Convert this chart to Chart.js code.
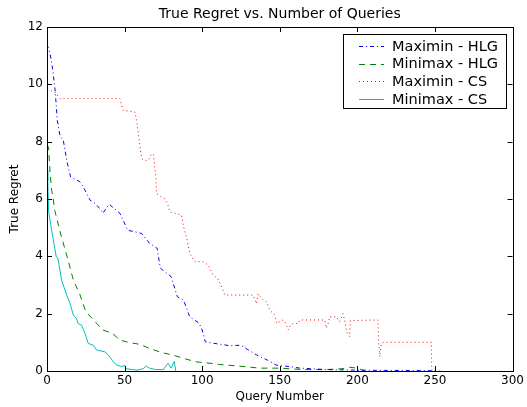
<!DOCTYPE html>
<html>
<head>
<meta charset="utf-8">
<script src="https://cdn.jsdelivr.net/npm/chart.js@4"></script>
<style>
  body { margin: 0; background: #fff; }
  #wrap { width: 527px; height: 407px; }
</style>
</head>
<body>
<div id="wrap"><canvas id="myChart" width="527" height="407"></canvas></div>
<script>
const chartTitle = 'True Regret vs. Number of Queries';
const xTicks = [0, 50, 100, 150, 200, 250, 300];
const yTicks = [0, 2, 4, 6, 8, 10, 12];

// Maximin - HLG
const maximinHlgX = [0, 2, 3.7, 5.2, 5.8, 6.6, 8.4, 10.5, 12.7, 15.2, 21.2, 23.4, 27.7, 31, 35, 36, 40, 47, 52, 61, 66, 71, 73, 80, 84, 88, 92, 98, 100, 102, 107, 118, 125, 129, 135, 142, 148, 157, 163, 180, 200, 220, 240, 253];
const maximinHlgY = [11.4, 11.07, 10.5, 9.8, 9.38, 8.75, 8.2, 8.05, 7.35, 6.77, 6.6, 6.42, 5.96, 5.85, 5.6, 5.5, 5.82, 5.5, 4.91, 4.8, 4.46, 4.28, 3.59, 3.29, 2.59, 2.47, 1.89, 1.67, 1.43, 1.02, 0.97, 0.88, 0.9, 0.76, 0.56, 0.38, 0.2, 0.15, 0.1, 0.05, 0.03, 0.02, 0.02, 0];

// Minimax - HLG
const minimaxHlgX = [0, 1, 2, 3, 4, 5, 9, 13, 17, 21, 25, 31, 36, 42, 47, 53, 60, 66, 74, 81, 88, 96, 105, 111, 124, 137, 150, 165, 180, 190, 195, 200, 205];
const minimaxHlgY = [7.9, 7.8, 6.9, 6.3, 6.0, 5.6, 4.74, 3.98, 3.17, 2.7, 2.07, 1.72, 1.43, 1.32, 1.08, 0.99, 0.93, 0.79, 0.64, 0.56, 0.44, 0.32, 0.27, 0.23, 0.17, 0.1, 0.1, 0.05, 0.05, 0.08, 0.13, 0.1, 0];

// Maximin - CS
const maximinCsX = [0, 2, 5, 8.4, 47, 49, 56.7, 57.7, 60, 61, 63.3, 65.3, 67.4, 68.6, 69.5, 70.2, 70.6, 73.8, 76, 78, 79.2, 86.7, 88, 90, 92, 95.3, 100.6, 104, 107, 110, 113.5, 114.6, 132.8, 135, 136, 139, 141.5, 143.6, 146.8, 148, 150, 152, 154, 155.5, 157, 158.6, 162, 163, 179, 180, 181.5, 182, 186.5, 188.5, 190.8, 192, 193, 195, 195.5, 213.3, 213.7, 214.4, 215.5, 217, 247.6, 248];
const maximinCsY = [9.8, 9.78, 9.73, 9.5, 9.5, 9.09, 9.03, 8.75, 7.81, 7.4, 7.35, 7.35, 7.58, 7.55, 7.1, 6.65, 6.19, 6.07, 6.0, 5.78, 5.55, 5.44, 5.03, 4.65, 4.1, 3.81, 3.81, 3.69, 3.34, 3.23, 2.82, 2.65, 2.65, 2.35, 2.7, 2.5, 2.41, 2.12, 1.95, 1.66, 1.72, 1.78, 1.66, 1.43, 1.6, 1.66, 1.66, 1.78, 1.78, 1.49, 1.7, 1.89, 1.89, 1.72, 2.0, 1.72, 1.37, 1.2, 1.76, 1.78, 1.08, 0.5, 0.96, 1.0, 1.0, 0];

// Minimax - CS
const minimaxCsX = [0, 0.5, 1, 3, 6, 7, 9.4, 12.7, 14.8, 17, 19, 20, 22.3, 24.5, 26.6, 29.8, 32, 37.3, 39.5, 42.7, 45, 48, 50, 51, 55, 58, 62, 64, 66, 70, 75, 78, 80, 82, 83];
const minimaxCsY = [7.0, 6.65, 5.6, 4.9, 3.98, 3.95, 3.17, 2.65, 2.36, 1.95, 1.83, 1.66, 1.6, 1.31, 0.96, 0.9, 0.73, 0.67, 0.56, 0.32, 0.21, 0.15, 0.2, 0.08, 0.05, 0.03, 0.08, 0.17, 0.1, 0.05, 0.05, 0.27, 0.1, 0.33, 0];

function pts(xs, ys) {
  return xs.map((x, i) => ({ x: x, y: ys[i] }));
}

const FONT = 'DejaVu Sans';

// ticks pointing inward on all four sides, full frame, title and legend box
const framePlugin = {
  id: 'frame',
  afterDraw(chart) {
    const c = chart.ctx;
    const a = chart.chartArea;
    const xs = chart.scales.x, ys = chart.scales.y;
    c.save();
    c.strokeStyle = '#000';
    c.lineWidth = 1;
    c.strokeRect(Math.round(a.left) + 0.5, Math.round(a.top) + 0.5, Math.round(a.right - a.left), Math.round(a.bottom - a.top));
    c.beginPath();
    xTicks.forEach(v => {
      const px = Math.round(xs.getPixelForValue(v)) + 0.5;
      c.moveTo(px, a.bottom); c.lineTo(px, a.bottom - 5);
      c.moveTo(px, a.top); c.lineTo(px, a.top + 5);
    });
    yTicks.forEach(v => {
      const py = Math.round(ys.getPixelForValue(v)) + 0.5;
      c.moveTo(a.left, py); c.lineTo(a.left + 5, py);
      c.moveTo(a.right, py); c.lineTo(a.right - 5, py);
    });
    c.stroke();

    // title
    c.fillStyle = '#000';
    c.font = '14px "' + FONT + '"';
    c.textAlign = 'center';
    c.textBaseline = 'alphabetic';
    c.fillText(chartTitle, (a.left + a.right) / 2, 18);

    // legend
    const bx = 343.5, by = 34.5, bw = 163, bh = 74;
    c.fillStyle = '#fff';
    c.fillRect(bx, by, bw, bh);
    c.strokeStyle = '#000';
    c.strokeRect(bx, by, bw, bh);
    c.font = '14.5px "' + FONT + '"';
    c.textAlign = 'left';
    c.textBaseline = 'middle';
    chart.data.datasets.forEach((ds, i) => {
      const ly = 46 + i * 17.7;
      c.strokeStyle = ds.borderColor;
      c.lineWidth = ds.borderWidth;
      c.setLineDash(ds.borderDash || []);
      c.beginPath();
      c.moveTo(359, Math.round(ly) + 0.5);
      c.lineTo(384, Math.round(ly) + 0.5);
      c.stroke();
      c.setLineDash([]);
      c.fillStyle = '#000';
      c.fillText(ds.label, 392, ly + 1);
    });
    c.restore();
  }
};

const ctx = document.getElementById('myChart');

new Chart(ctx, {
  type: 'line',
  data: {
    datasets: [{
      label: 'Maximin - HLG',
      data: pts(maximinHlgX, maximinHlgY),
      borderColor: '#0000ff',
      borderWidth: 1,
      borderDash: [4, 3, 1, 3]
    }, {
      label: 'Minimax - HLG',
      data: pts(minimaxHlgX, minimaxHlgY),
      borderColor: '#008000',
      borderWidth: 1,
      borderDash: [6, 5]
    }, {
      label: 'Maximin - CS',
      data: pts(maximinCsX, maximinCsY),
      borderColor: '#ff0000',
      borderWidth: 1,
      borderDash: [1, 3]
    }, {
      label: 'Minimax - CS',
      data: pts(minimaxCsX, minimaxCsY),
      borderColor: '#00bfbf',
      borderWidth: 1
    }]
  },
  options: {
    responsive: false,
    animation: false,
    layout: { padding: { top: 27, right: 14, left: 0, bottom: 0 } },
    elements: { point: { radius: 0 }, line: { tension: 0, fill: false } },
    plugins: {
      legend: { display: false },
      tooltip: { enabled: false },
      title: { display: false }
    },
    scales: {
      x: {
        type: 'linear',
        min: 0,
        max: 300,
        afterBuildTicks: s => { s.ticks = xTicks.map(v => ({ value: v })); },
        afterFit: s => { s.height = 36; },
        grid: { display: false, drawTicks: false },
        border: { display: false },
        ticks: { color: '#000', padding: 3, font: { family: FONT, size: 12 } },
        title: { display: true, text: 'Query Number', color: '#000', padding: { top: 0, bottom: 3 }, font: { family: FONT, size: 12 } }
      },
      y: {
        type: 'linear',
        min: 0,
        max: 12,
        afterBuildTicks: s => { s.ticks = yTicks.map(v => ({ value: v })); },
        afterFit: s => { s.width = 47; },
        grid: { display: false, drawTicks: false },
        border: { display: false },
        ticks: { color: '#000', padding: 4, font: { family: FONT, size: 12 } },
        title: { display: true, text: 'True Regret', color: '#000', padding: { top: 8, bottom: 0 }, font: { family: FONT, size: 12 } }
      }
    }
  },
  plugins: [framePlugin]
});
</script>
</body>
</html>
